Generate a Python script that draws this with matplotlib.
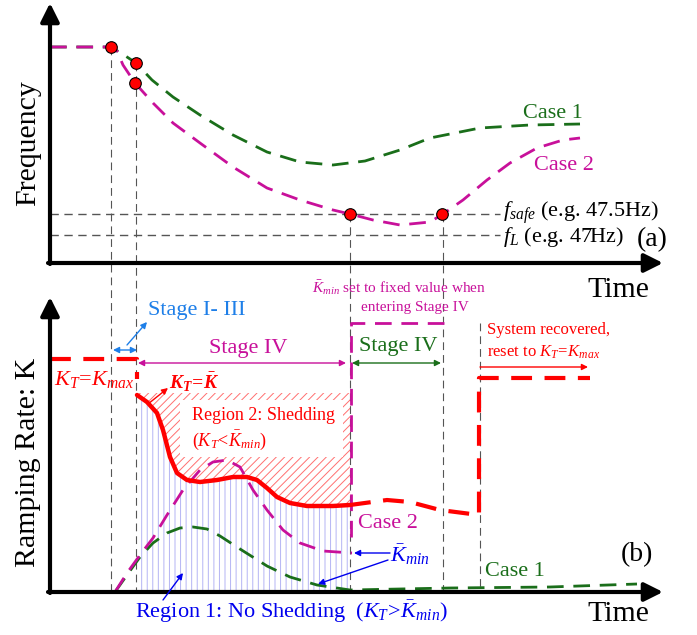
import matplotlib.pyplot as plt

plt.rcParams['font.family'] = 'Liberation Serif'
plt.rcParams['mathtext.fontset'] = 'custom'
plt.rcParams['mathtext.rm'] = 'Liberation Serif'
plt.rcParams['mathtext.it'] = 'Liberation Serif:italic'
plt.rcParams['mathtext.bf'] = 'Liberation Serif:italic:bold'
plt.rcParams['hatch.linewidth'] = 0.7

GREEN = '#1a6e1a'
MAGENTA = '#c8109a'
RED = '#ff0000'
BLUE = '#0000ee'
LBLUE = '#1e7fe8'
GRAY = '#555555'

# ---- (a) frequency, schematic units (x = time, y = frequency, downwards) ----
case1_t = [50, 111, 124, 136, 152, 173, 200, 233, 267, 300, 333, 365, 400, 430, 480, 530, 580]
case1_f = [47, 47, 55, 63, 80, 97, 115, 135, 152, 162, 165, 161, 150, 138, 128, 125, 124]

case2_t = [50, 111, 117, 123, 135, 153, 173, 200, 233, 267, 300, 333, 350, 373, 400, 430, 443,
           463, 487, 510, 537, 563, 580]
case2_f = [47, 47, 51, 65, 83, 103, 123, 143, 167, 188, 200, 210, 214, 220, 225, 222, 214,
           200, 180, 163, 148, 140, 138]

dots_t = [111, 136, 135, 350, 442]
dots_f = [47, 63, 83, 214, 214]

f_safe = 214
f_low = 235

# ---- (b) ramping rate ----
kt_t = [137, 147, 157, 163, 170, 177, 187, 200, 217, 233, 247, 257, 267, 277, 290, 307, 333, 350]
kt_k = [395, 402, 413, 430, 457, 473, 480, 482, 480, 477, 477, 480, 488, 497, 503, 506, 506, 505]

kt_head_t = [50, 137, 137]
kt_head_k = [359, 359, 379]
kt_tail_t = [350, 387, 410, 440, 479, 479, 590]
kt_tail_k = [505, 500, 502, 510, 515, 378, 378]

kmin2_t = [115, 127, 140, 153, 167, 183, 200, 213, 227, 240, 253, 267, 283, 300, 323, 352]
kmin2_k = [592, 573, 555, 538, 515, 490, 470, 462, 460, 467, 490, 510, 530, 543, 551, 553]
kmin2_fix_t = [351, 351, 445]
kmin2_fix_k = [537, 323, 323]

kmin1_t = [115, 127, 140, 153, 167, 180, 193, 207, 220, 240, 267, 290, 317, 350, 400, 450, 550, 637]
kmin1_k = [592, 575, 557, 543, 533, 528, 527, 529, 536, 549, 566, 577, 585, 590, 589, 588, 587, 584]

shed_top = 393
vlines = [(111, 47), (136, 63), (350, 214), (443, 214), (480, 323)]

fig = plt.figure(figsize=(6.97, 6.35), dpi=100)
ax = fig.add_axes([0, 0, 1, 1])
ax.set_xlim(0, 697)
ax.set_ylim(635, 0)
ax.axis('off')


def arrow(p0, p1, color, lw=1.0, style='-|>', ms=10):
    ax.annotate('', xy=p1, xytext=p0,
                arrowprops=dict(arrowstyle=style, color=color, lw=lw,
                                mutation_scale=ms, shrinkA=0, shrinkB=0))


# axes arrows
arrow((50, 264), (50, 3), 'k', lw=3, ms=28)
arrow((48, 263), (663, 263), 'k', lw=3, ms=28)
arrow((50, 593), (50, 297), 'k', lw=3, ms=28)
arrow((48, 592), (663, 592), 'k', lw=3, ms=28)

# gray guide lines
for x, y0 in vlines:
    ax.plot([x, x], [y0, 592], color=GRAY, lw=0.8, dashes=(7, 4.5))
for y in (f_safe, f_low):
    ax.plot([50, 500], [y, y], color=GRAY, lw=1.0, dashes=(6, 4))

# (a) curves
ax.plot(case1_t, case1_f, color=GREEN, lw=2, dashes=(6, 3.5))
ax.plot(case2_t, case2_f, color=MAGENTA, lw=2, dashes=(6, 3.5))
ax.scatter(dots_t, dots_f, s=70, color='red', edgecolor='k', lw=0.8, zorder=5)

ax.text(28, 143, 'Frequency', rotation=90, fontsize=21.5, ha='center', va='center')
ax.text(618, 290, 'Time', fontsize=21.5, ha='center', va='center')
ax.text(523, 113, 'Case 1', color=GREEN, fontsize=16, va='center')
ax.text(534, 166, 'Case 2', color=MAGENTA, fontsize=16, va='center')
ax.text(503, 213, r'$f_{safe}$ (e.g. 47.5Hz)', fontsize=16, va='center')
ax.text(503, 237, r'$f_L$ (e.g. 47Hz)', fontsize=16, va='center')
ax.text(652, 240, '(a)', fontsize=20, ha='center', va='center')

# (b) regions
ax.fill_between(kt_t, kt_k, 592, facecolor='none', edgecolor='#b4b4f4',
                hatch='|||', lw=0)
ax.fill_between(kt_t, shed_top, kt_k, facecolor='none', edgecolor='#ff7070',
                hatch='////', lw=0)
ax.add_patch(plt.Rectangle((180, 400), 163, 57, facecolor='white', lw=0))
ax.text(192, 416, 'Region 2: Shedding', color=RED, fontsize=13, va='center')
ax.text(192, 440, r'$(K_T\!<\!\bar{K}_{min})$', color=RED, fontsize=13, va='center')

# (b) curves
ax.plot(kmin1_t, kmin1_k, color=GREEN, lw=2, dashes=(6, 3.5))
ax.plot(kmin2_t, kmin2_k, color=MAGENTA, lw=2, dashes=(6, 3.5))
ax.plot(kmin2_fix_t, kmin2_fix_k, color=MAGENTA, lw=2, dashes=(6, 3.5))
ax.plot(kt_t, kt_k, color=RED, lw=3.2, solid_capstyle='round')
ax.plot(kt_head_t, kt_head_k, color=RED, lw=3, dashes=(5, 3))
ax.plot(kt_tail_t, kt_tail_k, color=RED, lw=3, dashes=(5, 3))

ax.text(28, 462, 'Ramping Rate: K', rotation=90, fontsize=21.5, ha='center', va='center')
ax.text(618, 614, 'Time', fontsize=21.5, ha='center', va='center')
ax.text(637, 555, '(b)', fontsize=20, ha='center', va='center')

# annotations
arrow((113, 350), (137, 350), LBLUE, style='<|-|>', ms=9)
arrow((127, 345), (147, 322), LBLUE, ms=9)
ax.text(148, 311, 'Stage I- III', color=LBLUE, fontsize=16, va='center')

arrow((138, 363), (346, 363), MAGENTA, style='<|-|>', ms=9)
ax.text(248, 349, 'Stage IV', color=MAGENTA, fontsize=16, ha='center', va='center')

arrow((352, 363), (441, 363), GREEN, style='<|-|>', ms=9)
ax.text(398, 347, 'Stage IV', color=GREEN, fontsize=16, ha='center', va='center')

ax.text(399, 288, r'$\bar{K}_{min}$ set to fixed value when', color=MAGENTA,
        fontsize=11, ha='center', va='center')
ax.text(415, 307, 'entering Stage IV', color=MAGENTA, fontsize=11, ha='center', va='center')

ax.text(54, 380, r'$K_T\!=\!K_{max}$', color=RED, fontsize=16, va='center')
arrow((148, 404), (168, 388), RED, ms=9)
ax.text(169, 382, r'$\mathbf{K_T\!=\!\bar{K}}$', color=RED, fontsize=14, va='center')

ax.text(487, 330, 'System recovered,', color=RED, fontsize=12, va='center')
ax.text(487, 352, r'reset to $K_T\!=\!K_{max}$', color=RED, fontsize=12, va='center')
arrow((480, 367), (588, 367), RED, ms=9)

ax.text(358, 524, 'Case 2', color=MAGENTA, fontsize=16, va='center')
ax.text(390, 555, r'$\bar{K}_{min}$', color=BLUE, fontsize=16, va='center')
arrow((390, 553), (354, 553), BLUE, ms=9)
arrow((388, 560), (318, 584), BLUE, ms=9)
ax.text(485, 572, 'Case 1', color=GREEN, fontsize=16, va='center')

ax.text(135, 612, r'Region 1: No Shedding  $(K_T\!>\!\bar{K}_{min})$', color=BLUE,
        fontsize=16, va='center')
arrow((163, 600), (183, 573), BLUE, ms=9)

fig.savefig('out.png', dpi=100)
